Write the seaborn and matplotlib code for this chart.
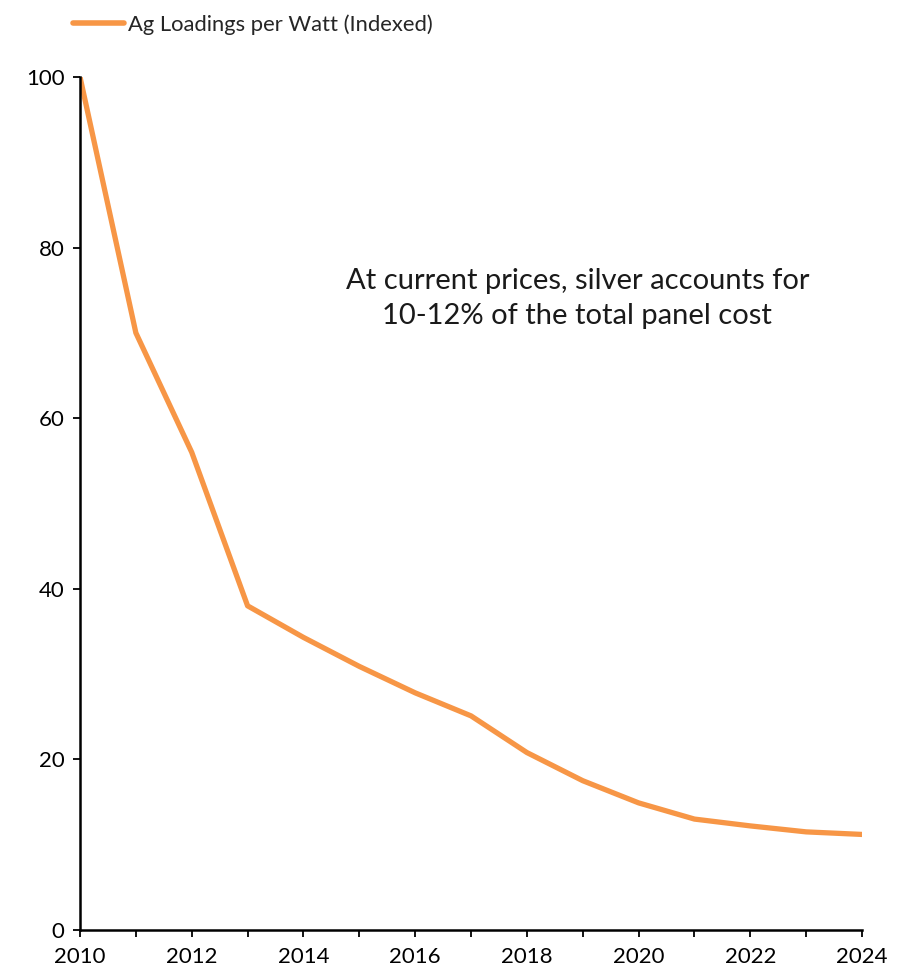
import numpy as np
import pandas as pd
import matplotlib.pyplot as plt
import seaborn as sns

# Data
years = [2010, 2011, 2012, 2013, 2014, 2015, 2016, 2017,
         2018, 2019, 2020, 2021, 2022, 2023, 2024]
ag_loading = [100, 70, 56, 38, 34.3, 30.9, 27.8, 25.1,
              20.8, 17.5, 14.9, 13.0, 12.2, 11.5, 11.2]
series_name = "Ag Loadings per Watt (Indexed)"
note_text = "At current prices, silver accounts for\n10-12% of the total panel cost"

df = pd.DataFrame({"year": years, "value": ag_loading, "series": series_name})

sns.set_theme(style="ticks")
plt.rcParams["font.family"] = ["Lato", "DejaVu Sans"]

fig = plt.figure(figsize=(9.02, 9.74), dpi=100)
ax = fig.add_axes([0.0887, 0.0452, 0.8670, 0.8758])

sns.lineplot(data=df, x="year", y="value", hue="series",
             palette=["#F79646"], linewidth=3.8, ax=ax)

ax.set_xlim(2010, 2024)
ax.set_ylim(0, 100)
ax.set_xticks(range(2010, 2025, 2))
ax.set_xticks(range(2010, 2025, 1), minor=True)
ax.set_yticks(range(0, 101, 20))
ax.set_xlabel("")
ax.set_ylabel("")
ax.tick_params(axis="both", which="both", direction="out", length=5,
               width=1.3, color="black", labelsize=16, labelcolor="black")
ax.tick_params(axis="x", pad=7)
ax.tick_params(axis="y", pad=6)
for side in ["top", "right"]:
    ax.spines[side].set_visible(False)
for side in ["left", "bottom"]:
    ax.spines[side].set_linewidth(1.8)
    ax.spines[side].set_color("black")

ax.text(0.636, 0.74, note_text, transform=ax.transAxes, ha="center", va="center",
        fontsize=21, color="#1a1a1a", linespacing=1.45)

leg = ax.legend(loc="upper left", bbox_to_anchor=(-0.034, 1.097), frameon=False,
                fontsize=15.8, handlelength=2.3, handletextpad=0.2)
for line in leg.get_lines():
    line.set_linewidth(4)

fig.savefig("out.png", dpi=100)
